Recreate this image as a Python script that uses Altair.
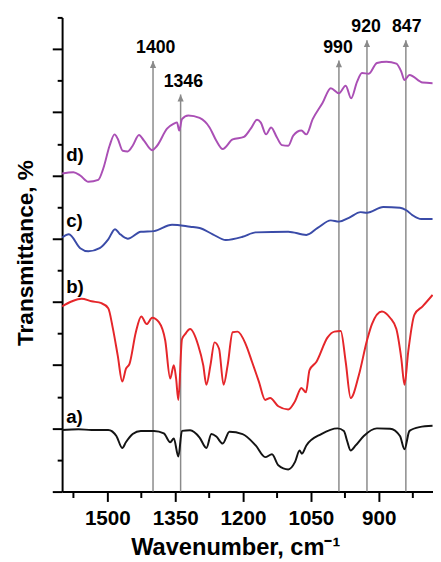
import altair as alt
import pandas as pd

# ---- curve a) black ----
wn_a = [1600, 1564, 1535, 1498, 1480, 1467, 1459, 1444, 1426, 1397, 1375, 1361, 1353, 1343, 1335,
        1317, 1296, 1281, 1270, 1259, 1245, 1230, 1201, 1172, 1151, 1136, 1122, 1100, 1085, 1075,
        1070, 1060, 1027, 991, 977, 970, 962, 951, 933, 904, 875, 853, 843, 832, 810, 781]
t_a = [9.75, 9.85, 9.75, 9.75, 8.8, 6.9, 7.8, 9.1, 9.6, 9.6, 9.2, 7.8, 8.4, 5.55, 9.6,
       9.7, 8.55, 6.9, 9.1, 8.7, 7.6, 9.45, 9.1, 7.3, 5.45, 5.9, 4.15, 3.5, 4.7, 6.5,
       6.0, 7.3, 9.1, 10.0, 9.6, 8.05, 6.5, 7.3, 8.8, 10.0, 9.95, 8.8, 6.7, 9.6, 10.2, 10.4]

# ---- curve b) red ----
wn_b = [1600, 1578, 1557, 1535, 1513, 1498, 1488, 1477, 1467, 1459, 1451, 1437, 1425, 1413, 1401,
        1386, 1372, 1361, 1353, 1348, 1343, 1335, 1328, 1317, 1299, 1288, 1281, 1272, 1263, 1253,
        1243, 1234, 1223, 1212, 1194, 1180, 1165, 1151, 1140, 1122, 1100, 1085, 1071, 1061, 1053,
        1038, 1013, 998, 984, 973, 962, 944, 926, 915, 893, 875, 861, 850, 843, 835, 821, 803, 781]
t_b = [29.3, 30.1, 30.5, 30.1, 29.8, 29.0, 25.9, 21.5, 17.4, 19.4, 20.2, 25.2, 27.7, 26.5, 27.5,
       26.8, 23.9, 17.9, 20.0, 17.9, 14.5, 24.1, 24.9, 25.7, 23.1, 20.0, 16.9, 20.0, 23.6, 22.6,
       16.9, 20.0, 25.2, 25.3, 23.3, 20.5, 17.4, 14.5, 14.8, 13.5, 13.0, 14.3, 16.4, 15.7, 19.2,
       20.5, 24.4, 25.3, 25.4, 20.5, 14.8, 18.4, 23.9, 26.5, 28.5, 27.5, 25.7, 21.0, 16.9, 22.0,
       28.0, 29.3, 31.1]

# ---- curve c) blue ----
wn_c = [1600, 1585, 1560, 1542, 1517, 1498, 1483, 1473, 1455, 1426, 1397, 1357, 1317, 1296, 1267,
        1238, 1201, 1172, 1100, 1060, 1035, 1006, 988, 966, 940, 926, 890, 853, 839, 825, 806, 781]
t_c = [40.2, 40.7, 38.5, 38.0, 38.5, 39.9, 41.5, 40.8, 40.0, 41.1, 41.2, 42.2, 41.9, 41.7, 40.7,
       39.8, 40.3, 41.0, 41.1, 40.6, 41.7, 42.9, 42.7, 43.3, 44.2, 44.1, 45.0, 44.9, 44.5, 43.7,
       43.1, 43.1]

# ---- curve d) purple ----
wn_d = [1600, 1575, 1560, 1542, 1520, 1509, 1495, 1484, 1477, 1466, 1455, 1444, 1430, 1419, 1401,
        1390, 1368, 1353, 1346, 1341, 1335, 1321, 1296, 1274, 1259, 1245, 1223, 1198, 1183, 1169,
        1161, 1149, 1138, 1125, 1114, 1100, 1089, 1071, 1060, 1046, 1024, 1006, 988, 973, 961,
        948, 937, 922, 904, 883, 861, 850, 843, 832, 803, 781]
t_d = [50.3, 50.5, 50.0, 49.0, 49.3, 51.1, 54.7, 56.5, 55.8, 53.9, 53.8, 54.7, 56.4, 55.5, 54.0,
       54.7, 57.4, 58.2, 58.4, 57.1, 58.9, 59.5, 59.1, 57.6, 55.5, 54.2, 55.7, 56.1, 57.4, 58.8,
       58.4, 56.5, 57.6, 56.0, 54.8, 54.7, 56.3, 57.1, 56.5, 58.9, 61.5, 63.8, 63.0, 64.2, 62.2,
       64.8, 66.2, 66.1, 67.8, 68.0, 67.7, 66.4, 65.1, 65.9, 64.7, 64.6]

curve_names = ["a", "b", "c", "d"]
curve_colors = ["#141414", "#E5262A", "#3A4BA8", "#AA4FB5"]

label_text = ["a)", "b)", "c)", "d)"]
label_wn = [1591, 1591, 1591, 1591]
label_t = [11.8, 32.4, 42.8, 53.2]

arrow_wn = [1399, 1338, 988, 926, 840]
arrow_tip = [68.1, 62.8, 68.2, 71.4, 71.4]
arrow_label = ["1400", "1346", "990", "920", "847"]
arrow_label_wn = [1393, 1332, 990, 928, 838]
arrow_label_t = [70.2, 64.7, 70.2, 73.5, 73.5]

x_ticks = [1575, 1500, 1425, 1350, 1275, 1200, 1125, 1050, 975, 900, 825]
y_ticks = [0, 5, 10, 15, 20, 25, 30, 35, 40, 45, 50, 55, 60, 65, 70, 75]

FONT = "Liberation Sans"

rows = []
for name, wns, ts in zip(curve_names, [wn_a, wn_b, wn_c, wn_d], [t_a, t_b, t_c, t_d]):
    for i, (w, t) in enumerate(zip(wns, ts)):
        rows.append({"series": name, "wn": w, "T": t, "i": i})
curves = pd.DataFrame(rows)

labels_df = pd.DataFrame({"wn": label_wn, "T": label_t, "text": label_text})
arrows_df = pd.DataFrame({"wn": arrow_wn, "T": arrow_tip, "base": [0] * len(arrow_wn)})
arrow_text_df = pd.DataFrame({"wn": arrow_label_wn, "T": arrow_label_t, "text": arrow_label})

x_enc = alt.X(
    "wn:Q",
    scale=alt.Scale(domain=[1600, 780], nice=False, zero=False),
    axis=alt.Axis(
        values=x_ticks,
        format="d",
        labelExpr="datum.value % 150 === 0 ? datum.label : ''",
        labelOverlap=False,
        tickSize={"condition": {"test": "datum.value % 150 === 0", "value": 10}, "value": 6},
        labelPadding=23,
        labelBaseline="alphabetic",
        labelFontSize=21,
        labelFontWeight="bold",
        labelFont=FONT,
        labelColor="black",
        title="Wavenumber, cm\u207b\u00b9",
        titleFontSize=24,
        titleFontWeight="bold",
        titleFont=FONT,
        titleColor="black",
        titleX=176,
        titleY=64,
        titleBaseline="alphabetic",
        titleAlign="center",
        grid=False,
        domainColor="black",
        domainWidth=2,
        tickColor="black",
        tickWidth=2,
    ),
)

y_enc = alt.Y(
    "T:Q",
    scale=alt.Scale(domain=[0, 75], nice=False, zero=False),
    axis=alt.Axis(
        values=y_ticks,
        labels=False,
        tickSize={"condition": {"test": "datum.value % 10 === 0", "value": 10}, "value": 5},
        title="Transmittance, %",
        titleFontSize=23,
        titleFontWeight="bold",
        titleFont=FONT,
        titleColor="black",
        titleAngle=270,
        titleX=-30,
        titleY=239,
        titleBaseline="alphabetic",
        titleAlign="center",
        grid=False,
        domainColor="black",
        domainWidth=2,
        tickColor="black",
        tickWidth=2,
    ),
)

rules = alt.Chart(arrows_df).mark_rule(color="#8a8a8a", strokeWidth=1.5).encode(
    x=x_enc, y=y_enc, y2="base:Q"
)
heads = alt.Chart(arrows_df).mark_point(
    shape="M0,-1L0.9,1L-0.9,1Z", filled=True, size=49, color="#8a8a8a", opacity=1, yOffset=3.5
).encode(x=x_enc, y=y_enc)
arrow_texts = alt.Chart(arrow_text_df).mark_text(
    font=FONT, fontSize=18, fontWeight="bold", color="black", baseline="middle", align="center"
).encode(x=x_enc, y=y_enc, text="text:N")

lines = alt.Chart(curves).mark_line(strokeWidth=2, clip=True, interpolate="monotone").encode(
    x=x_enc,
    y=y_enc,
    color=alt.Color("series:N", scale=alt.Scale(domain=curve_names, range=curve_colors), legend=None),
    detail="series:N",
    order="i:Q",
)

curve_labels = alt.Chart(labels_df).mark_text(
    font=FONT, fontSize=19, fontWeight="bold", color="black", baseline="middle", align="left"
).encode(x=x_enc, y=y_enc, text="text:N")

chart = alt.layer(rules, heads, arrow_texts, lines, curve_labels).properties(
    width=377,
    height=482,
    autosize=alt.AutoSizeParams(type="none"),
    padding={"left": 55, "top": 5, "right": 0, "bottom": 67},
    background="white",
).configure_view(stroke=None)

chart.save("out.html", embed_options={"renderer": "svg", "actions": False})
